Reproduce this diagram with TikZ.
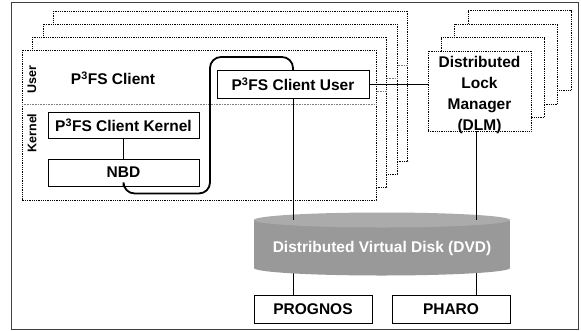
\documentclass[tikz,border=0pt]{standalone}
\usepackage{fontspec}
\setmainfont{Liberation Sans}
\usetikzlibrary{shapes.geometric,backgrounds}
\definecolor{disktop}{HTML}{ABABAB}
\definecolor{diskside}{HTML}{999999}
\tikzset{
  sheet/.style={draw, densely dotted, fill=white, line width=0.8pt},
  divider/.style={draw=gray, densely dotted, line width=0.6pt},
  plainbox/.style={draw, fill=white, line width=0.9pt, inner sep=0pt},
  loopline/.style={line width=1.8pt, rounded corners=11pt},
  link/.style={line width=1pt},
  sidelabel/.style={rotate=90, font=\bfseries\fontsize{12.5}{14}\selectfont}
}
\begin{document}
\begin{tikzpicture}[x=1pt, y=-1pt,
    every node/.style={font=\bfseries\fontsize{15.5}{21}\selectfont}]
\useasboundingbox (0,0) rectangle (581,330);
\draw[line width=1pt, black!75] (11,2) rectangle (578,329);

% stack of client machines
\foreach \i in {3,2,1} {
  \draw[sheet] (22+10.5*\i,50-13*\i) rectangle (376+10.5*\i,200-13*\i);
  \draw[divider] (22+10.5*\i,104-13*\i) -- (376+10.5*\i,104-13*\i);
}
\draw[sheet] (22,50) rectangle (376,200);
\draw[divider] (22,104) -- (376,104);

\node[sidelabel] (user) at (32,80) {User};
\node[sidelabel] (kernel) at (32,133) {Kernel};
\node (client) at (113,78) {P\textsuperscript{3}FS Client};
\node[plainbox, minimum width=151pt, minimum height=26pt] (ckernel) at (123.5,125) {P\textsuperscript{3}FS Client Kernel};
\node[plainbox, minimum width=151pt, minimum height=27pt] (nbd) at (123.5,172.5) {NBD};
\draw[link] (ckernel) -- (nbd);

% stack of lock managers
\foreach \i in {3,2,1} {
  \draw[sheet] (428+13.3*\i,51-13.5*\i) rectangle (531+13.3*\i,131-13.5*\i);
}
\node[sheet, minimum width=103pt, minimum height=80pt, inner sep=0pt] (dlm) at (479.5,91) {};
\node[align=center, inner sep=0pt] (dlmtext) at (479.5,95) {Distributed\\Lock\\Manager\\(DLM)};

% user space client
\draw[loopline] (nbd.south) -- ++(0,7) -| (210,57) -| (293,70);
\node[plainbox, minimum width=152pt, minimum height=28pt] (cuser) at (293,84) {P\textsuperscript{3}FS Client User};
\draw[link] (cuser.east) -- (cuser.east -| dlm.west);

% distributed disk
\fill[diskside] (254,220) rectangle (510,268);
\node[ellipse, fill=diskside, minimum width=256pt, minimum height=15pt, inner sep=0pt] (dvdbot) at (382,268) {};
\node[ellipse, fill=disktop, minimum width=256pt, minimum height=15pt, inner sep=0pt] (dvdtop) at (382,220) {};
\node[text=white] (dvd) at (382,248) {Distributed Virtual Disk (DVD)};
\draw[link] (cuser.south) -- (cuser.south |- dvdtop.center);
\draw[link] ([xshift=-3.5pt]dlm.south) -- ([xshift=-3.5pt]dlm.south |- dvdtop.center);

\node[plainbox, minimum width=118pt, minimum height=28pt] (prognos) at (313,309) {PROGNOS};
\node[plainbox, minimum width=118pt, minimum height=28pt] (pharo) at (451,309) {PHARO};
\begin{scope}[on background layer]
  \draw[link] (prognos.north -| cuser.south) -- (dvdbot.center -| cuser.south);
  \draw[link] (pharo.north -| 476,0) -- (dvdbot.center -| 476,0);
\end{scope}
\end{tikzpicture}
\end{document}
